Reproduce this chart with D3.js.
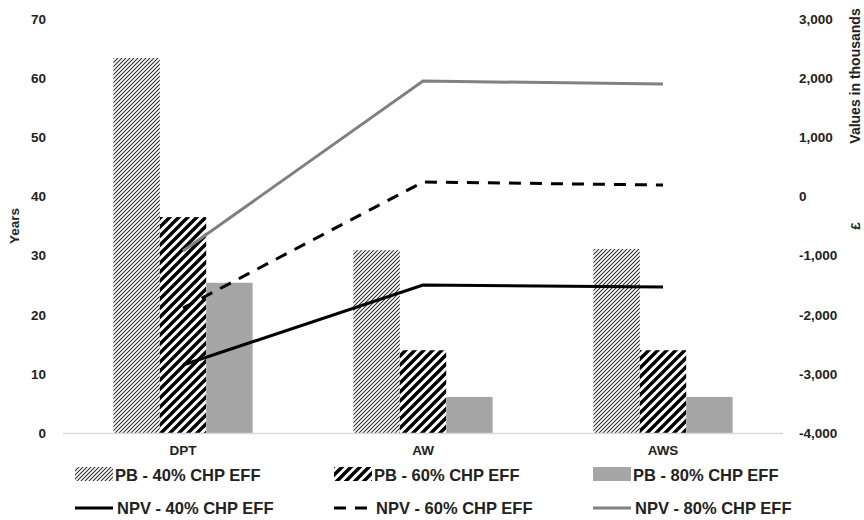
<!DOCTYPE html>
<html>
<head>
<meta charset="utf-8">
<script src="https://cdn.jsdelivr.net/npm/d3@7"></script>
<style>
  html, body { margin: 0; padding: 0; background: #fff; }
  svg text { font-family: "Liberation Sans Narrow", "Arial Narrow", "Liberation Sans", sans-serif; font-weight: bold; fill: #222; }
</style>
</head>
<body>
<svg id="chart" width="864" height="520"></svg>
<script>
// Payback period (years) and NPV (£ thousands) per scheme and CHP efficiency
const categories = ["DPT", "AW", "AWS"];
const pb40 = [63.4, 30.9, 31.1];
const pb60 = [36.5, 14.0, 14.0];
const pb80 = [25.4, 6.1, 6.1];
const npv40 = [-2851, -1498, -1532];
const npv60 = [-1887, 243, 193];
const npv80 = [-923, 1951, 1900];
const leftTicks = [0, 10, 20, 30, 40, 50, 60, 70];
const rightTicks = [-4000, -3000, -2000, -1000, 0, 1000, 2000, 3000];

const svg = d3.select("#chart");
const margin = { left: 63, right: 81, top: 19, bottom: 87 };
const W = 864, H = 520;

// hatch fills for the payback bars
const defs = svg.append("defs");
const fine = defs.append("pattern").attr("id", "hatchFine")
  .attr("patternUnits", "userSpaceOnUse").attr("width", 4).attr("height", 4);
fine.append("rect").attr("width", 4).attr("height", 4).attr("fill", "#fff");
fine.append("path").attr("d", "M-1,1 L1,-1 M0,4 L4,0 M3,5 L5,3")
  .attr("stroke", "#2a2a2a").attr("stroke-width", 1.05);

const wide = defs.append("pattern").attr("id", "hatchWide")
  .attr("patternUnits", "userSpaceOnUse").attr("width", 9).attr("height", 9);
wide.append("rect").attr("width", 9).attr("height", 9).attr("fill", "#fff");
wide.append("path").attr("d", "M-2,2 L2,-2 M0,9 L9,0 M7,11 L11,7")
  .attr("stroke", "#000").attr("stroke-width", 3.4);

const x = d3.scaleBand().domain(categories)
  .range([margin.left, W - margin.right]).paddingInner(0).paddingOuter(0);
const xSub = d3.scaleBand().domain(["pb40", "pb60", "pb80"])
  .range([0, x.bandwidth() * 0.58]);
const yL = d3.scaleLinear().domain([0, 70]).range([H - margin.bottom, margin.top]);
const yR = d3.scaleLinear().domain([-4000, 3000]).range([H - margin.bottom, margin.top]);

const barSeries = [
  { key: "pb40", values: pb40, fill: "url(#hatchFine)" },
  { key: "pb60", values: pb60, fill: "url(#hatchWide)" },
  { key: "pb80", values: pb80, fill: "#a6a6a6" }
];
const groupOffset = (x.bandwidth() - x.bandwidth() * 0.58) / 2;

barSeries.forEach(s => {
  svg.append("g").selectAll("rect").data(categories).join("rect")
    .attr("x", c => x(c) + groupOffset + xSub(s.key))
    .attr("width", xSub.bandwidth())
    .attr("y", (c, i) => yL(s.values[i]))
    .attr("height", (c, i) => yL(0) - yL(s.values[i]))
    .attr("fill", s.fill);
});

// category axis line
svg.append("line")
  .attr("x1", margin.left).attr("x2", W - margin.right)
  .attr("y1", yL(0) + 0.5).attr("y2", yL(0) + 0.5)
  .attr("stroke", "#d9d9d9").attr("stroke-width", 1.5);

// NPV lines on the secondary axis
const lineSeries = [
  { values: npv40, color: "#000", dash: null },
  { values: npv60, color: "#000", dash: "12,9" },
  { values: npv80, color: "#808080", dash: null }
];
const line = d3.line()
  .x(d => x(d.c) + x.bandwidth() / 2)
  .y(d => yR(d.v));
lineSeries.forEach(s => {
  svg.append("path")
    .datum(categories.map((c, i) => ({ c, v: s.values[i] })))
    .attr("d", line)
    .attr("fill", "none")
    .attr("stroke", s.color)
    .attr("stroke-width", 3)
    .attr("stroke-dasharray", s.dash);
});

// axes
const thousands = d3.format(",");
const axL = svg.append("g").attr("transform", `translate(${margin.left - 17},0)`)
  .call(d3.axisLeft(yL).tickValues(leftTicks).tickSize(0).tickPadding(0));
const axR = svg.append("g").attr("transform", `translate(${W - margin.right + 16},0)`)
  .call(d3.axisRight(yR).tickValues(rightTicks).tickSize(0).tickPadding(0)
    .tickFormat(d => thousands(d).replace("\u2212", "-")));
const axB = svg.append("g").attr("transform", `translate(0,${yL(0) + 10})`)
  .call(d3.axisBottom(x).tickSize(0).tickPadding(0));
[axL, axR, axB].forEach(a => {
  a.select(".domain").remove();
  a.selectAll("text").style("font-size", "13.5px").attr("fill", "#222");
});
axB.selectAll("text").attr("dy", "0.9em");

// axis titles
svg.append("text").attr("transform", `translate(19,${(yL(0) + yL(70)) / 2}) rotate(-90)`)
  .attr("text-anchor", "middle").style("font-size", "13.5px").text("Years");
svg.append("text").attr("transform", `translate(860,${(yR(-4000) + yR(3000)) / 2}) rotate(-90)`)
  .attr("text-anchor", "middle").style("font-size", "13.5px").text("£");
svg.append("text").attr("transform", `translate(860,76) rotate(-90)`)
  .attr("text-anchor", "middle").style("font-size", "14px").text("Values in thousands");

// legend
const legend = [
  { label: "PB - 40% CHP EFF", type: "rect", fill: "url(#hatchFine)", col: 0, row: 0 },
  { label: "PB - 60% CHP EFF", type: "rect", fill: "url(#hatchWide)", col: 1, row: 0 },
  { label: "PB - 80% CHP EFF", type: "rect", fill: "#a6a6a6", col: 2, row: 0 },
  { label: "NPV - 40% CHP EFF", type: "line", color: "#000", dash: null, col: 0, row: 1 },
  { label: "NPV - 60% CHP EFF", type: "line", color: "#000", dash: "12,9", col: 1, row: 1 },
  { label: "NPV - 80% CHP EFF", type: "line", color: "#808080", dash: null, col: 2, row: 1 }
];
const colX = [75, 334, 593];
const rowY = [475, 508];
legend.forEach(l => {
  const g = svg.append("g").attr("transform", `translate(${colX[l.col]},${rowY[l.row]})`);
  if (l.type === "rect") {
    g.append("rect").attr("x", 0).attr("y", -8).attr("width", 38).attr("height", 14).attr("fill", l.fill);
  } else {
    g.append("line").attr("x1", 0).attr("x2", 38).attr("y1", 0).attr("y2", 0)
      .attr("stroke", l.color).attr("stroke-width", 3).attr("stroke-dasharray", l.dash);
  }
  g.append("text").attr("x", l.type === "rect" ? 40 : 42).attr("y", 0).attr("dy", "0.35em")
    .style("font-size", "16.5px").text(l.label);
});
</script>
</body>
</html>
